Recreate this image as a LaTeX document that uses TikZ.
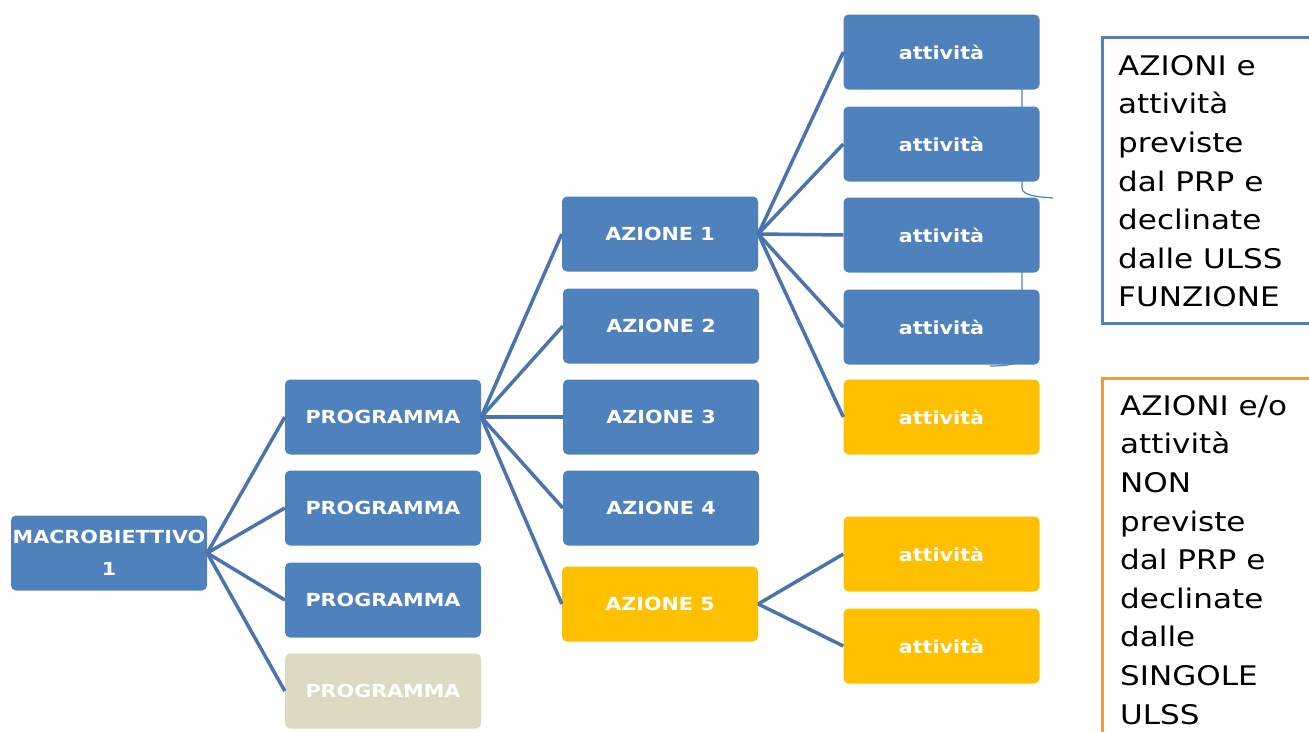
\documentclass[tikz,border=0pt]{standalone}
\usepackage{fontspec}
\newfontfamily\bfont[FakeStretch=1.15]{DejaVu Sans Bold}
\newfontfamily\rfont[FakeStretch=1.15]{DejaVu Sans}
\definecolor{boxblue}{HTML}{4F81BD}
\definecolor{lineblue}{HTML}{4A74AE}
\definecolor{boxyellow}{HTML}{FFC000}
\definecolor{boxbeige}{HTML}{DDD9C3}
\definecolor{frameorange}{HTML}{F79646}
\tikzset{
  nodebox/.style={rounded corners=5pt, minimum width=196pt, minimum height=75pt, inner sep=0pt,
    align=center, text=white, font=\bfont\fontsize{18}{32}\selectfont},
  bluebox/.style={nodebox, fill=boxblue},
  yellowbox/.style={nodebox, fill=boxyellow},
  beigebox/.style={nodebox, fill=boxbeige},
  conn/.style={draw=lineblue, line width=3.5pt},
  sidetext/.style={anchor=north west, align=left, inner sep=0pt, text=black,
    font=\rfont\fontsize{27}{38.6}\selectfont}
}
\begin{document}
\begin{tikzpicture}[x=1pt,y=-1pt]
\useasboundingbox (0,0) rectangle (1309,731);
% thin brace behind activity boxes
\coordinate (bt) at (1022,28);
\coordinate (bm) at (1053,198);
\coordinate (bb) at (990,366);
\draw[boxblue, line width=1.2pt] (bt) -- (1022,188) .. controls (1022,196) and (1040,197) .. (bm);
\draw[boxblue, line width=1.2pt] (1022,200) -- (1022,358) .. controls (1022,364) and (1005,366) .. (bb);
% nodes
\node[bluebox] (m) at (109,553) {MACROBIETTIVO\\1};
\node[bluebox] (p1) at (383,417) {PROGRAMMA};
\node[bluebox] (p2) at (383,508) {PROGRAMMA};
\node[bluebox] (p3) at (383,600) {PROGRAMMA};
\node[beigebox] (p4) at (383,691) {PROGRAMMA};
\node[bluebox] (a1) at (660,234) {AZIONE 1};
\node[bluebox] (a2) at (661,326) {AZIONE 2};
\node[bluebox] (a3) at (661,417) {AZIONE 3};
\node[bluebox] (a4) at (661,508) {AZIONE 4};
\node[yellowbox] (a5) at (660,604) {AZIONE 5};
\node[bluebox] (t1) at (941.5,52) {attività};
\node[bluebox] (t2) at (941.5,144) {attività};
\node[bluebox] (t3) at (941.5,235) {attività};
\node[bluebox] (t4) at (941.5,327) {attività};
\node[yellowbox] (t5) at (941.5,417) {attività};
\node[yellowbox] (t6) at (941.5,554) {attività};
\node[yellowbox] (t7) at (941.5,646) {attività};
% connectors
\foreach \c in {p1,p2,p3,p4} \draw[conn] (m.east) -- (\c.west);
\foreach \c in {a1,a2,a3,a4,a5} \draw[conn] (p1.east) -- (\c.west);
\foreach \c in {t1,t2,t3,t4,t5} \draw[conn] (a1.east) -- (\c.west);
\foreach \c in {t6,t7} \draw[conn] (a5.east) -- (\c.west);
% side frames
\coordinate (f1a) at (1312,37);
\coordinate (f1b) at (1102,37);
\coordinate (f1c) at (1102,323);
\coordinate (f1d) at (1312,323);
\draw[boxblue, line width=3pt] (f1a) -- (f1b) -- (f1c) -- (f1d);
\coordinate (f2a) at (1312,378);
\coordinate (f2b) at (1102,378);
\coordinate (f2c) at (1102,735);
\draw[frameorange, line width=3pt] (f2a) -- (f2b) -- (f2c);
\node[sidetext] (s1) at (1118,55) {AZIONI e\\attività\\previste\\dal PRP e\\declinate\\dalle ULSS\\FUNZIONE};
\node[sidetext] (s2) at (1120,395) {AZIONI e/o\\attività\\NON\\previste\\dal PRP e\\declinate\\dalle\\SINGOLE\\ULSS};
\end{tikzpicture}
\end{document}
